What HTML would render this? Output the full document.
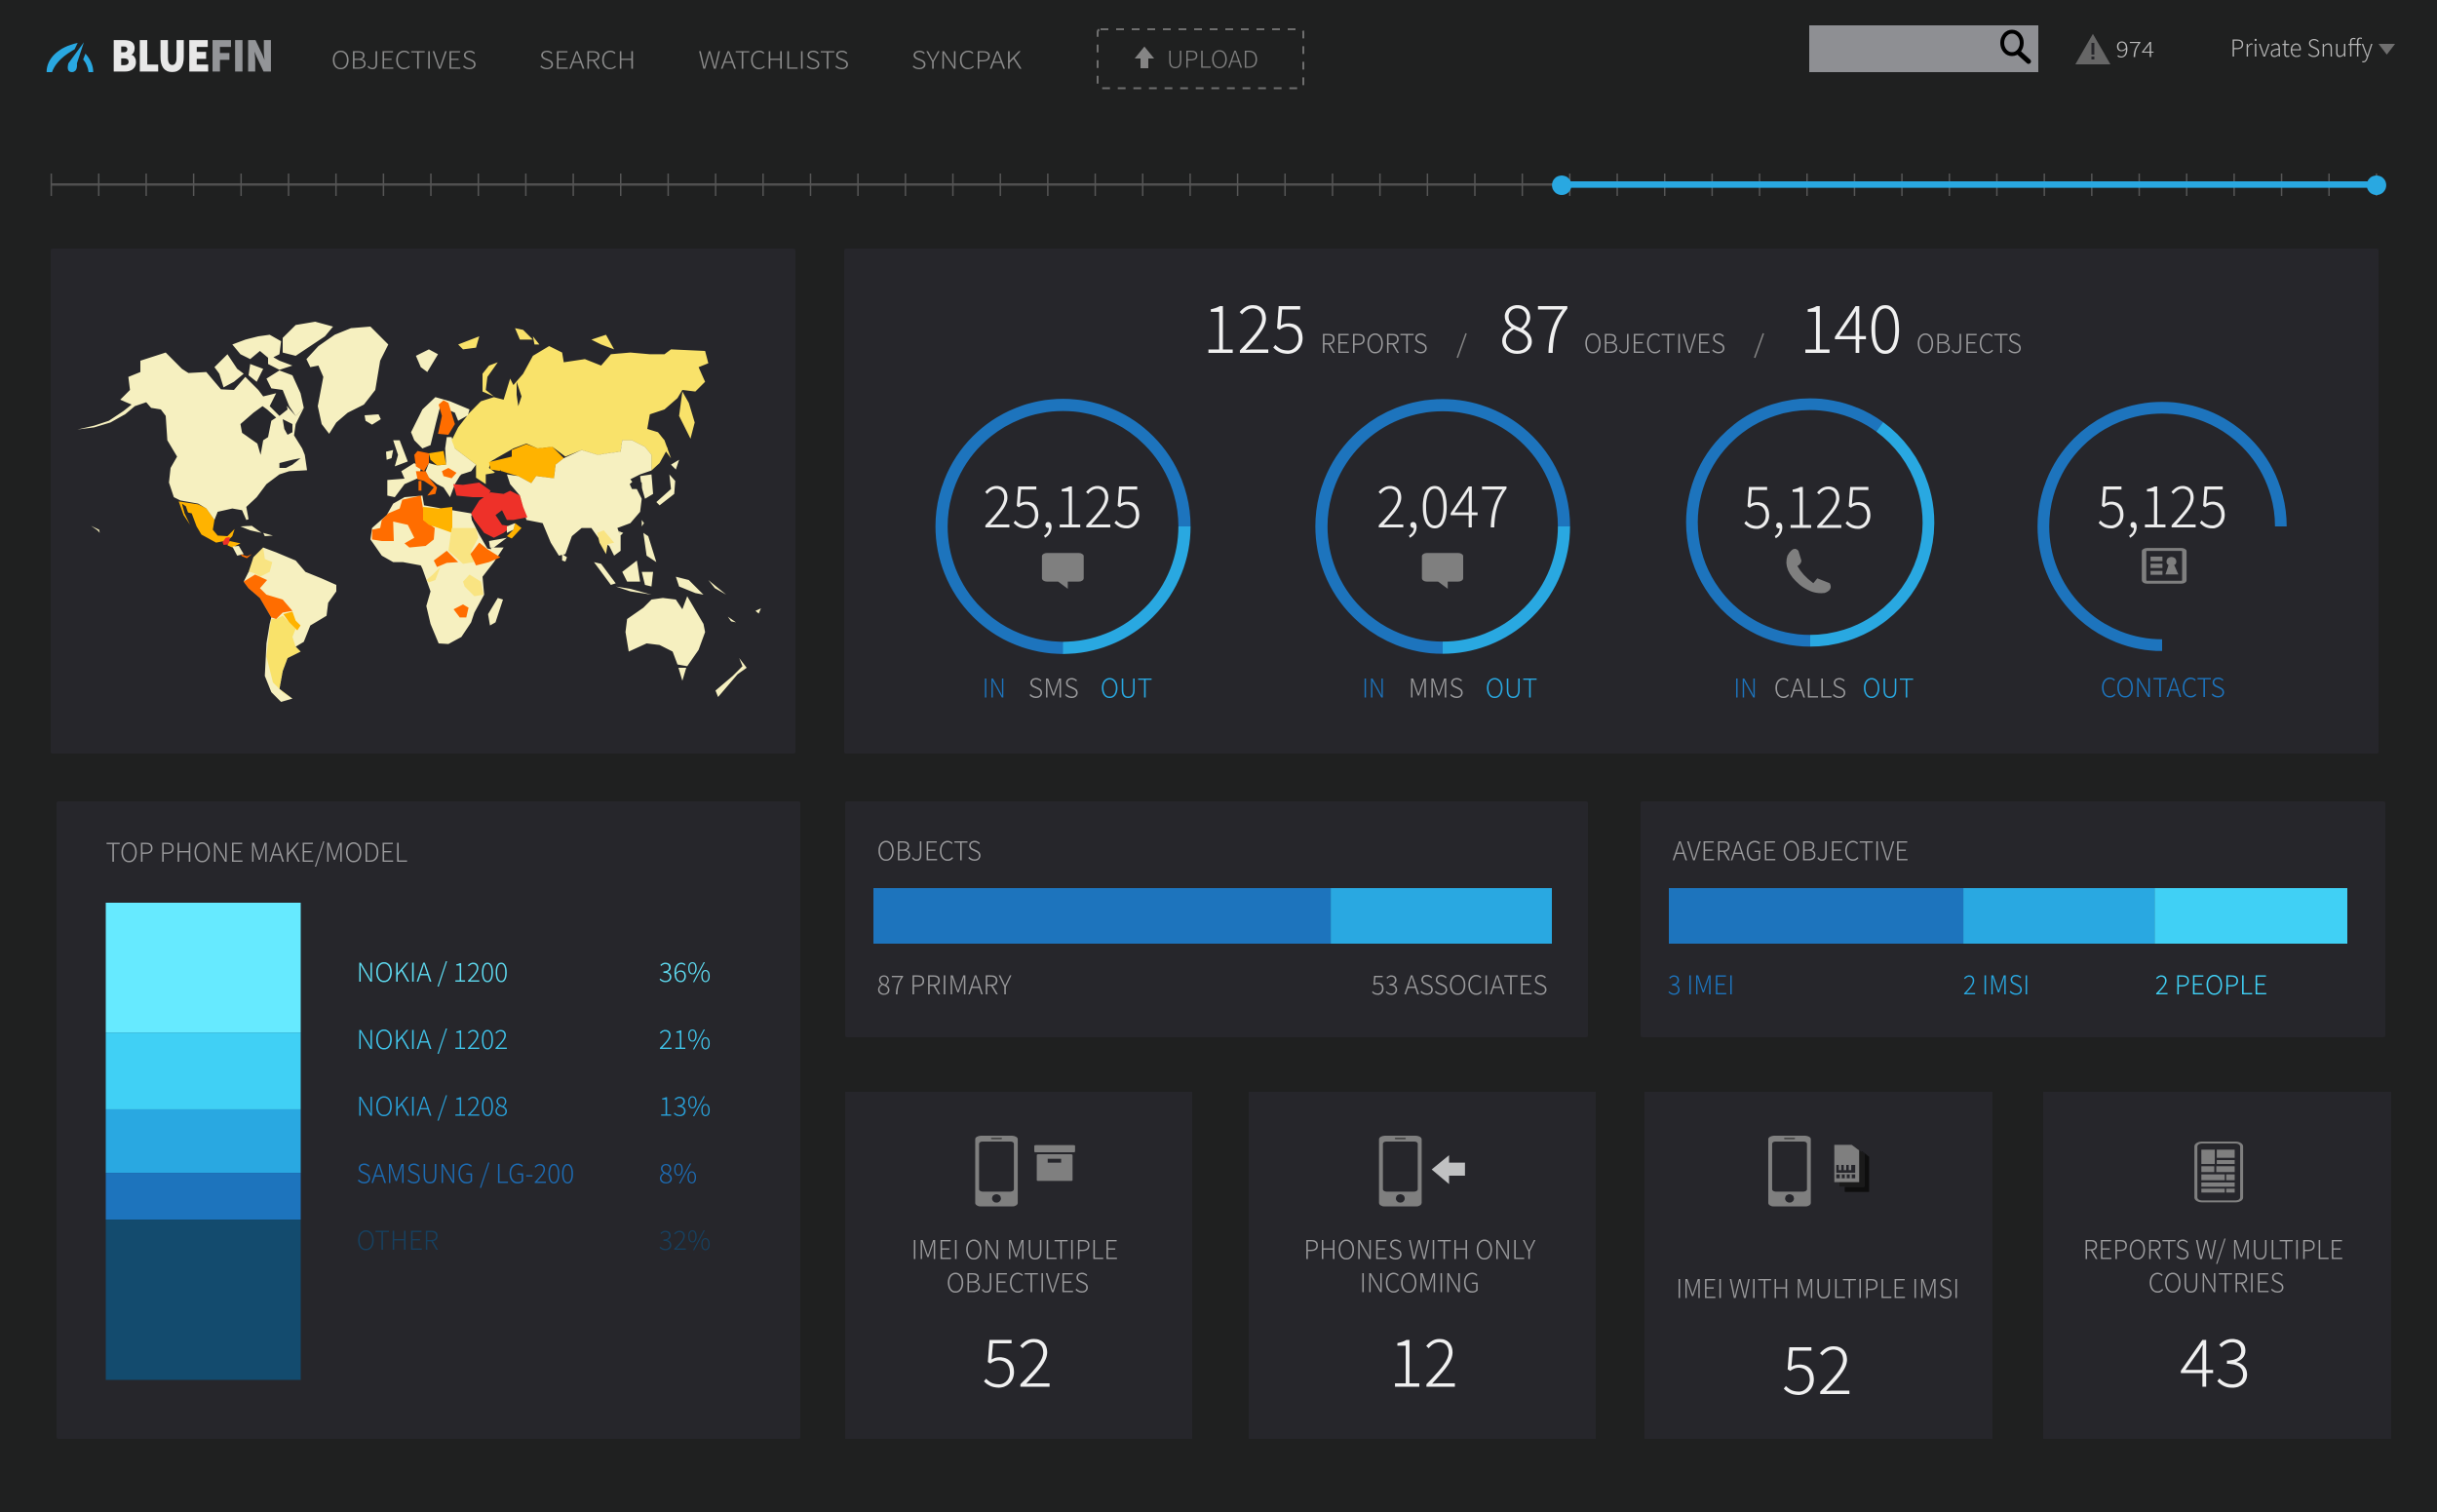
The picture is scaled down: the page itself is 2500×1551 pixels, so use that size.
<!DOCTYPE html>
<html lang="en">
<head>
<meta charset="utf-8">
<title>Bluefin Dashboard</title>
<style>
html,body{margin:0;padding:0;background:#1f2020;width:2500px;height:1551px;overflow:hidden}
svg{display:block}
text{font-family:"Noto Sans CJK JP","Liberation Sans",sans-serif;font-weight:300;}
.nav{font-size:25px;fill:#8c8c8c}
.lab{font-size:27px;fill:#9a9a9c}
.num{font-size:68px;fill:#f0f0f0;font-weight:200}
.ring{font-size:59px;fill:#ececec;font-weight:200}
.in{fill:#1d74bd}.out{fill:#29a8e1}
.panel{fill:#26262b}
.c{fill:#f6f0c0}.y{fill:#f9e26a}.p{fill:#f9e482}.a{fill:#ffb300}.o{fill:#ff6d00}.r{fill:#ee3129}.d{fill:#26262b}
.ic{fill:#7f7f7f}
</style>
</head>
<body>
<svg id="dash" xmlns="http://www.w3.org/2000/svg" width="2500" height="1551" viewBox="0 0 2500 1551">
<defs>
<symbol id="phone-shape" viewBox="0 0 86 218" width="86" height="218">
<rect x="0" y="0" width="86" height="218" rx="12" fill="#7f7f7f"/>
<rect x="8" y="18" width="70" height="154" rx="7" fill="#26262b"/>
<rect x="32" y="6" width="22" height="5" rx="2" fill="#444"/>
<ellipse cx="43" cy="193" rx="9" ry="13" fill="#26262b"/>
</symbol>
</defs>

<!-- header -->
<g>
<g transform="scale(.797,.3333)" fill="#29a8e1">
<path d="M60,222 C60,180 75,145 100,132 L96,152 C84,168 72,190 67,222Z"/>
<path d="M108,130 L88,195 Q85,222 93,222 Q100,220 99,195Z"/>
<path d="M110,165 Q120,192 120,222 L114,222 Q113,200 107,183Z"/>
</g>
<text x="115.6" y="73" textLength="98" lengthAdjust="spacingAndGlyphs" stroke="#e8e8e8" stroke-width=".8" style="font-size:42px;font-weight:900;fill:#e8e8e8">BLUE</text>
<text x="217" y="73" textLength="62" lengthAdjust="spacingAndGlyphs" stroke="#939598" stroke-width=".8" style="font-size:42px;font-weight:900;fill:#939598">FIN</text>
</g>
<text class="nav" x="341" y="70.7" textLength="147" lengthAdjust="spacingAndGlyphs">OBJECTIVES</text>
<text class="nav" x="554" y="70.7" textLength="97" lengthAdjust="spacingAndGlyphs">SEARCH</text>
<text class="nav" x="717.5" y="70.7" textLength="152.5" lengthAdjust="spacingAndGlyphs">WATCHLISTS</text>
<text class="nav" x="936" y="70.7" textLength="111" lengthAdjust="spacingAndGlyphs">SYNCPAK</text>
<g>
<rect x="1126" y="30" width="211" height="60.5" rx="3" fill="none" stroke="#6e6e6e" stroke-width="2" stroke-dasharray="8 8"/>
<polygon points="1174,47.7 1184,60 1178,60 1178,70 1170,70 1170,60 1164,60" fill="#858585"/>
<text x="1198" y="69.3" textLength="92" lengthAdjust="spacingAndGlyphs" style="font-size:24px;fill:#808080">UPLOAD</text>
</g>
<g>
<rect x="1856" y="26" width="235" height="48" fill="#8e8f93"/>
<ellipse cx="2064" cy="44" rx="10" ry="11.5" fill="none" stroke="#000" stroke-width="4"/>
<line x1="2071" y1="54" x2="2081" y2="63" stroke="#000" stroke-width="5" stroke-linecap="round"/>
</g>
<g>
<polygon points="2147,34.7 2165,66 2129,66" fill="#666"/>
<rect x="2145.5" y="44" width="3" height="12" fill="#26262b"/>
<rect x="2145.5" y="58" width="3" height="3" fill="#26262b"/>
</g>
<text x="2171.6" y="58.3" textLength="37.5" lengthAdjust="spacingAndGlyphs" style="font-size:22px;fill:#bdbdbd;font-weight:300">974</text>
<text x="2289" y="58" textLength="144" lengthAdjust="spacingAndGlyphs" style="font-size:24px;fill:#b5b5b5">Private Snuffy</text>
<polygon points="2440,45 2457,45 2448.5,56" fill="#6f6f6f"/>

<!-- timeline -->
<g id="timeline"></g>

<!-- panels -->
<rect class="panel" x="52" y="255" width="764" height="518" rx="2"/>
<rect class="panel" x="866" y="255" width="1574" height="518" rx="2"/>
<rect class="panel" x="58" y="822" width="763" height="654" rx="2"/>
<rect class="panel" x="867" y="822" width="762" height="242" rx="2"/>
<rect class="panel" x="1683" y="822" width="764" height="242" rx="2"/>
<rect class="panel" x="867" y="1120" width="356" height="356"/>
<rect class="panel" x="1281" y="1120" width="356" height="356"/>
<rect class="panel" x="1687" y="1120" width="357" height="356"/>
<rect class="panel" x="2096" y="1120" width="357" height="356"/>

<!-- world map -->
<g>
<g transform="translate(70,320) scale(.33333)">
<polygon class="c" points="160,270 190,240 185,200 222,185 222,150 300,125 350,175 370,188 425,185 470,238 510,240 545,200 585,240 600,260 640,250 665,280 700,320 725,295 700,345 695,380 720,420 728,440 735,487 680,490 650,500 610,530 580,570 548,600 555,638 548,640 535,610 505,605 460,615 450,640 425,605 400,590 345,580 325,570 310,525 315,480 335,445 305,395 300,320 285,300 255,295 240,278 205,290 175,315 130,340 80,355 28,362 80,350 125,335 170,305 195,285"/>
<polygon class="d" points="530,345 570,310 598,290 612,300 640,325 625,335 615,385 600,395 592,440 582,405 535,372"/>
<polygon class="d" points="620,290 640,250 665,250 675,300 650,320"/>
<polygon class="d" points="660,330 690,345 690,370 675,378 665,360"/>
<polygon class="d" points="650,465 690,455 715,450 690,470 670,480 650,480"/>
<g class="c">
<polygon points="610,205 650,180 690,195 715,250 725,295 700,320 680,290 660,240 625,235"/>
<polygon points="660,80 700,40 760,30 815,45 790,75 745,105 700,135 660,125"/>
<polygon points="505,100 545,85 585,75 620,70 655,90 650,130 620,145 590,120 560,145 530,130"/>
<polygon points="450,170 490,130 520,175 540,190 510,215 478,232 465,190"/>
<polygon points="560,160 600,175 580,215 555,195"/>
<polygon points="615,130 650,150 690,165 650,178 615,160"/>
</g>
<polygon class="c" points="733,145 770,105 820,70 870,50 930,45 985,100 960,150 945,240 910,285 860,310 825,340 803,375 780,345 768,290 785,200 770,165 745,170"/>
<polygon class="a" points="340,583 400,592 425,605 450,640 445,670 460,688 490,690 512,668 505,690 495,700 480,705 455,710 410,685 395,660 380,620 360,615 375,655 355,625"/>
<polygon class="d" points="350,590 362,598 380,650 375,655 358,620"/>
<polygon class="r" points="485,695 497,693 495,715 478,717 475,708"/>
<polygon class="a" points="497,705 530,712 505,725 490,718"/>
<polygon class="c" points="505,722 525,720 540,745 520,750"/>
<polygon class="o" points="530,745 550,752 565,745 550,758 535,752"/>
<polygon class="c" points="530,660 565,658 595,680 560,672"/>
<polygon class="c" points="600,680 630,688 605,690"/>
<polygon class="c" points="70,658 95,670 97,680 90,672"/>
<polygon class="c" points="557,800 570,755 600,725 640,740 700,765 730,800 780,820 825,840 825,860 800,895 795,935 745,965 725,1015 700,1030 715,1045 675,1065 660,1105 650,1160 690,1190 655,1200 625,1170 605,1120 610,1020 620,960 625,940 590,880 555,850 540,830 555,800"/>
<polygon class="p" points="555,800 570,755 600,725 605,760 628,770 620,800 590,815 575,805 560,800"/>
<polygon class="o" points="540,830 575,808 612,825 590,850 610,870 660,885 690,920 660,925 640,945 625,940 590,880 555,850"/>
<polygon class="a" points="662,930 690,922 700,950 715,965 705,980 680,955"/>
<polygon class="y" points="625,945 640,945 660,935 680,955 700,975 690,1000 700,1030 715,1045 675,1065 660,1105 650,1160 690,1192 660,1170 630,1140 610,1060 620,970"/>
</g>

<g transform="translate(360,320) scale(.33333)">
<polygon class="c" points="60,700 65,665 110,625 130,590 165,570 220,565 225,595 280,605 312,610 370,620 385,660 425,725 470,725 440,770 405,815 410,870 380,925 370,955 340,1000 300,1022 270,1020 245,960 232,905 245,860 220,790 215,780 160,770 130,770 95,750"/>
<polygon class="o" points="158,578 215,565 222,605 222,640 258,665 255,700 230,720 180,725 165,712 195,695 175,655 130,645 132,705 95,705 65,700 65,670 90,665 95,640 115,620 150,605"/>
<polygon class="a" points="222,600 270,605 312,600 312,680 270,665 240,655 222,640"/>
<polygon class="p" points="310,665 385,665 392,695 370,735 378,770 345,775 300,735"/>
<polygon class="o" points="395,710 420,730 460,755 425,770 385,780 368,745"/>
<polygon class="o" points="255,765 295,735 330,770 295,772 265,785"/>
<polygon class="p" points="232,825 250,810 275,785 260,825 240,832"/>
<polygon class="p" points="345,830 365,808 400,830 408,870 380,875 350,845"/>
<polygon class="o" points="316,915 345,900 362,910 355,940 335,940"/>
<polygon class="c" points="452,880 468,885 445,955 428,965 422,930"/>

<polygon class="c" points="112,517 165,513 155,490 195,465 215,480 210,510 165,530 135,570 112,565"/>
<polygon class="c" points="240,465 265,472 293,470 290,420 295,385 310,385 320,420 385,470 370,490 340,500 335,505 320,530 305,570 285,540 265,530 240,510 230,490"/>
<polygon class="o" points="195,440 205,428 240,435 240,465 225,490 200,475"/>
<polygon class="o" points="200,490 230,490 240,510 265,540 260,560 235,565 255,540 225,520 205,515"/>
<polygon class="o" points="208,520 217,520 217,550 208,550"/>
<polygon class="a" points="240,435 285,428 293,470 265,472 245,455"/>
<polygon class="o" points="280,490 300,480 325,495 310,512 285,505"/>
<polygon class="c" points="185,370 220,300 260,262 305,275 365,300 360,318 330,335 320,310 275,290 262,340 245,410 220,420 195,395"/>
<polygon class="o" points="285,272 300,280 320,345 300,378 268,375 280,320 270,285"/>
<polygon class="c" points="130,395 150,395 175,460 135,475 145,440"/>
<polygon class="c" points="108,430 130,425 125,450 110,455"/>
<polygon class="c" points="42,318 85,315 92,330 65,347 45,335"/>
<polygon class="c" points="200,135 240,115 268,130 235,185 215,170"/>
<polygon class="y" points="330,100 395,75 385,110 345,115"/>
<polygon class="y" points="405,190 425,165 452,155 420,200 415,240 440,260 405,245"/>
<polygon class="y" points="505,50 530,55 560,85 520,85"/>
<polygon class="y" points="560,75 580,100 565,100"/>
<polygon class="y" points="740,85 785,70 810,115 770,100"/>

<polygon class="y" points="310,395 330,355 365,310 400,275 440,262 470,270 490,205 500,225 530,190 560,135 610,105 650,125 655,155 720,145 770,165 800,130 860,125 920,130 965,130 985,115 1090,120 1100,158 1070,170 1090,215 1060,245 1020,240 1005,265 965,300 920,315 912,360 945,370 975,420 950,465 925,488 925,440 905,415 865,395 835,395 830,430 790,435 760,440 710,425 660,445 620,415 575,420 540,405 500,420 430,460 425,480 445,495 415,500 415,530 385,510 385,470 320,420"/>
<polygon class="d" points="510,215 525,260 515,290 510,255"/>
<polygon class="y" points="1020,245 1040,280 1058,340 1045,390 1010,320"/>
<polygon class="y" points="945,370 965,395 985,450 970,430"/>
<polygon class="a" points="425,462 495,445 495,425 540,407 575,420 620,415 655,450 630,470 625,512 570,505 555,527 515,505 480,495 465,490 430,485"/>
<polygon class="c" points="480,500 515,505 555,527 570,505 625,512 630,470 655,450 710,425 760,440 790,435 830,430 835,395 865,395 905,415 925,440 925,488 890,500 860,515 875,535 895,575 890,615 860,650 820,665 830,690 830,735 810,750 795,720 765,700 740,665 710,665 680,690 660,745 640,750 615,710 590,650 540,640 520,565 490,530"/>
<polygon class="c" points="890,505 925,500 930,560 905,575 895,540"/>
<polygon class="d" points="858,530 875,515 895,525 897,570 880,545 865,545"/>
<polygon class="c" points="940,585 985,545 980,500 998,520 995,560 950,595"/>
<polygon class="c" points="985,470 1010,455 1000,485"/>
<polygon class="c" points="895,640 902,650 895,660"/>
<polygon class="c" points="825,675 838,680 828,690"/>
<polygon class="p" points="758,680 778,672 810,710 790,715 785,745 765,710"/>
<polygon class="c" points="748,770 770,775 815,835 800,840"/>
<polygon class="c" points="835,800 880,765 890,830 850,830"/>
<polygon class="c" points="815,845 860,852 925,870 860,860"/>
<polygon class="c" points="900,680 915,690 940,770 910,750"/>
<polygon class="c" points="895,800 930,800 925,845 905,840"/>
<polygon class="c" points="1000,815 1040,825 1085,870 1060,865 1010,845"/>
<polygon class="c" points="1100,825 1155,870 1120,850"/>
<polygon class="c" points="1245,920 1262,912 1255,928"/>
<polygon class="c" points="1160,938 1185,955 1170,952"/>
<polygon class="c" points="850,945 900,910 925,885 960,880 1000,885 1020,915 1035,875 1085,960 1090,985 1070,1040 1035,1090 1005,1085 990,1045 950,1025 910,1020 855,1045 845,985"/>
<polygon class="c" points="1008,1095 1032,1095 1020,1135"/>
<polygon class="c" points="1195,1065 1218,1095 1190,1115 1130,1185 1122,1165 1175,1120 1205,1090"/>
<polygon class="c" points="650,745 665,755 660,768 650,765"/>

<polygon class="d" points="370,625 385,640 415,690 432,730 420,728 395,685 372,640"/>
<polygon class="r" points="315,530 345,532 395,525 430,550 420,570 375,570 325,565"/>
<polygon class="r" points="370,620 395,580 430,555 470,560 490,550 520,565 530,600 543,632 500,640 480,640 465,610 445,625 465,655 495,660 470,680 440,695 410,680 380,640"/>
<polygon class="a" points="505,650 525,665 495,697 480,690 500,670"/>
<polygon class="c" points="425,705 480,695 440,725 428,725"/>
<polygon class="c" points="480,660 505,650 500,670 480,680"/>
<polygon class="d" points="440,495 462,487 455,510 478,555 455,555 445,520"/>
</g>
</g>

<!-- summary -->
<text class="num" x="1236.7" y="362" textLength="100" lengthAdjust="spacingAndGlyphs">125</text>
<text class="lab" x="1355.6" y="362" textLength="108" lengthAdjust="spacingAndGlyphs">REPORTS</text>
<line x1="1504" y1="342" x2="1495" y2="367" stroke="#858585" stroke-width="1.5"/>
<text class="num" x="1541" y="362" textLength="67" lengthAdjust="spacingAndGlyphs">87</text>
<text class="lab" x="1626" y="362" textLength="143" lengthAdjust="spacingAndGlyphs">OBJECTIVES</text>
<line x1="1809" y1="342" x2="1800" y2="367" stroke="#858585" stroke-width="1.5"/>
<text class="num" x="1849" y="362" textLength="99.5" lengthAdjust="spacingAndGlyphs">140</text>
<text class="lab" x="1967" y="362" textLength="106" lengthAdjust="spacingAndGlyphs">OBJECTS</text>

<!-- rings -->
<g id="ring-sms" data-cx="1090.5" data-cy="540" data-r="124.6" data-w="12.5"></g>
<g id="ring-mms" data-cx="1480" data-cy="540" data-r="124.4" data-w="12.5"></g>
<g id="ring-calls" data-cx="1857" data-cy="536" data-r="121.3" data-w="12"></g>
<g id="ring-contacts" data-cx="2218" data-cy="540" data-r="121.8" data-w="12"></g>

<text class="ring" x="1011" y="541" textLength="158" lengthAdjust="spacingAndGlyphs">25,125</text>
<text class="ring" x="1414.5" y="541" textLength="131" lengthAdjust="spacingAndGlyphs">2,047</text>
<text class="ring" x="1790.5" y="541.7" textLength="128.5" lengthAdjust="spacingAndGlyphs">5,125</text>
<text class="ring" x="2154" y="541" textLength="128.5" lengthAdjust="spacingAndGlyphs">5,125</text>

<g transform="translate(900,280) scale(.5102,.3333)" class="ic">
<g><rect x="331" y="862" width="84" height="88" rx="10"/><polygon points="362,948 383,972 383,948"/></g>
<g><rect x="1095" y="862" width="83" height="88" rx="10"/><polygon points="1126,948 1147,972 1147,948"/></g>
</g>
<g transform="translate(1650,280) scale(.5102,.3333)">
<path class="ic" d="M360,870 Q372,838 382,855 L388,885 Q388,895 380,902 Q390,930 412,955 L420,940 L445,955 Q452,975 435,985 Q410,990 385,960 Q350,915 360,870Z"/>
<g>
<rect x="1077" y="851" width="81" height="101" rx="6" fill="none" stroke="#7f7f7f" stroke-width="9"/>
<rect class="ic" x="1090" y="873" width="24" height="14"/>
<rect class="ic" x="1090" y="895" width="24" height="13"/>
<rect class="ic" x="1090" y="917" width="24" height="12"/>
<ellipse class="ic" cx="1132" cy="888" rx="10" ry="14"/>
<polygon class="ic" points="1126,900 1138,900 1146,928 1120,928"/>
</g>
</g>

<text class="lab in" x="1009" y="715.7" textLength="21.6" lengthAdjust="spacingAndGlyphs">IN</text>
<text class="lab" x="1056" y="715.7" textLength="49.6" lengthAdjust="spacingAndGlyphs">SMS</text>
<text class="lab out" x="1130" y="715.7" textLength="51" lengthAdjust="spacingAndGlyphs">OUT</text>
<text class="lab in" x="1398.5" y="715.7" textLength="21.5" lengthAdjust="spacingAndGlyphs">IN</text>
<text class="lab" x="1446" y="715.7" textLength="54.5" lengthAdjust="spacingAndGlyphs">MMS</text>
<text class="lab out" x="1525" y="715.7" textLength="51" lengthAdjust="spacingAndGlyphs">OUT</text>
<text class="lab in" x="1779.6" y="715.7" textLength="22" lengthAdjust="spacingAndGlyphs">IN</text>
<text class="lab" x="1821" y="715.7" textLength="72" lengthAdjust="spacingAndGlyphs">CALLS</text>
<text class="lab out" x="1911.7" y="715.7" textLength="50.5" lengthAdjust="spacingAndGlyphs">OUT</text>
<text class="lab in" x="2156" y="715" textLength="125.6" lengthAdjust="spacingAndGlyphs">CONTACTS</text>

<!-- phone make/model -->
<text class="lab" x="109.7" y="884" textLength="307.3" lengthAdjust="spacingAndGlyphs">TOP PHONE MAKE/MODEL</text>
<g id="phone-stack"></g>
<g id="phone-legend"></g>

<!-- objects / average -->
<text class="lab" x="900.8" y="882.7" textLength="105" lengthAdjust="spacingAndGlyphs">OBJECTS</text>
<g id="objects-bar"></g>
<text class="lab" x="900.8" y="1020" textLength="135.7" lengthAdjust="spacingAndGlyphs">87 PRIMARY</text>
<text class="lab" x="1408" y="1020" textLength="178.5" lengthAdjust="spacingAndGlyphs">53 ASSOCIATES</text>

<text class="lab" x="1717" y="882.7" textLength="240" lengthAdjust="spacingAndGlyphs">AVERAGE OBJECTIVE</text>
<g id="average-bar"></g>
<text class="lab in" x="1712" y="1020" textLength="66" lengthAdjust="spacingAndGlyphs">3 IMEI</text>
<text class="lab out" x="2015" y="1020" textLength="66" lengthAdjust="spacingAndGlyphs">2 IMSI</text>
<text class="lab" style="fill:#40d0f5" x="2212" y="1020" textLength="113" lengthAdjust="spacingAndGlyphs">2 PEOPLE</text>

<!-- stat icons -->
<g transform="translate(860,1110) scale(.5102,.3333)">
<use href="#phone-shape" x="275" y="165"/>
<g class="ic">
<rect x="394" y="194" width="82" height="22" rx="3"/>
<rect x="399" y="222" width="72" height="82" rx="3"/>
<rect x="421" y="236" width="27" height="12" fill="#26262b"/>
</g>
<use href="#phone-shape" x="1087" y="165"/>
<polygon fill="#c0c1c2" points="1193,269 1228,225 1228,248 1260,248 1260,288 1228,288 1228,314"/>
</g>
<g transform="translate(1670,1110) scale(.5102,.3333)">
<use href="#phone-shape" x="282" y="165"/>
<g>
<polygon points="436,213 471,213 485,230 485,338 436,338" fill="#0e0e0e"/>
<polygon points="425,203 460,203 475,220 475,322 425,322" fill="#1a1a1a" stroke="#26262b" stroke-width="1"/>
<polygon points="415,193 450,193 465,210 465,308 415,308" fill="#7f7f7f"/>
<rect x="419" y="255" width="38" height="24" fill="#26262b"/>
<rect x="419" y="284" width="38" height="12" fill="#26262b"/>
<rect x="424" y="255" width="5" height="16" fill="#7f7f7f"/><rect x="434" y="255" width="5" height="16" fill="#7f7f7f"/><rect x="444" y="255" width="5" height="16" fill="#7f7f7f"/>
<rect x="426" y="284" width="4" height="12" fill="#7f7f7f"/><rect x="436" y="284" width="4" height="12" fill="#7f7f7f"/><rect x="446" y="284" width="4" height="12" fill="#7f7f7f"/>
</g>
<g class="ic">
<rect x="1142" y="186" width="92" height="181" rx="12" fill="none" stroke="#7f7f7f" stroke-width="6"/>
<rect x="1153" y="208" width="27" height="44"/><rect x="1184" y="208" width="36" height="25"/><rect x="1184" y="240" width="36" height="12"/>
<rect x="1153" y="259" width="26" height="18"/><rect x="1183" y="259" width="37" height="18"/>
<rect x="1153" y="284" width="47" height="18"/><rect x="1203" y="284" width="17" height="18"/>
<rect x="1153" y="309" width="67" height="13"/>
<rect x="1153" y="328" width="47" height="12"/><rect x="1203" y="328" width="17" height="12"/>
</g>
</g>

<!-- stat text -->
<text class="lab" x="936" y="1291.7" textLength="210" lengthAdjust="spacingAndGlyphs">IMEI ON MULTIPLE</text>
<text class="lab" x="972" y="1325.5" textLength="144" lengthAdjust="spacingAndGlyphs">OBJECTIVES</text>
<text class="num" x="1010.5" y="1422.7" textLength="66.5" lengthAdjust="spacingAndGlyphs">52</text>
<text class="lab" x="1338.6" y="1291.7" textLength="235.4" lengthAdjust="spacingAndGlyphs">PHONES WITH ONLY</text>
<text class="lab" x="1396" y="1325.5" textLength="120.6" lengthAdjust="spacingAndGlyphs">INCOMING</text>
<text class="num" x="1428" y="1422.7" textLength="64.7" lengthAdjust="spacingAndGlyphs">12</text>
<text class="lab" x="1720.5" y="1331.7" textLength="288.5" lengthAdjust="spacingAndGlyphs">IMEI WITH MULTIPLE IMSI</text>
<text class="num" x="1831" y="1430" textLength="66.5" lengthAdjust="spacingAndGlyphs">52</text>
<text class="lab" x="2138" y="1291.7" textLength="265" lengthAdjust="spacingAndGlyphs">REPORTS W/ MULTIPLE</text>
<text class="lab" x="2205" y="1325.5" textLength="137.5" lengthAdjust="spacingAndGlyphs">COUNTRIES</text>
<text class="num" x="2239" y="1422.7" textLength="67" lengthAdjust="spacingAndGlyphs">43</text>
</svg>

<script>
// Chart data
const ringNames = ['ring-sms', 'ring-mms', 'ring-calls', 'ring-contacts'];
const ringInShare = [75, 75, 60, 75];
const ringOutShare = [25, 25, 40, 0];

const phoneCategories = ['NOKIA / 1200', 'NOKIA / 1202', 'NOKIA / 1208', 'SAMSUNG / LG-200', 'OTHER'];
const phoneBarShare = [27.2, 16.1, 13.3, 9.8, 33.6];
const phoneLabels = ['36%', '21%', '13%', '8%', '32%'];

const objectsShare = [67.4, 32.6];
const averageShare = [43.4, 28.2, 28.4];

const timelineTickCount = 50;
const timelineRange = [31.83, 49];

const NS = 'http://www.w3.org/2000/svg';
const phoneColors = ['#66eaff', '#40d0f5', '#29a8e1', '#1d74bd', '#134b6e'];
const phoneTextColors = ['#5fdcf2', '#40c4ea', '#29a0d8', '#1d6cb4', '#17405f'];
const phoneTextWidths = [153, 153, 153, 221, 82];
const phonePctWidths = [51, 51, 51, 37, 51];
const barColors = ['#1d74bd', '#29a8e1', '#40d0f5'];

function make(tag, attrs, parent) {
  const el = document.createElementNS(NS, tag);
  for (const k in attrs) el.setAttribute(k, attrs[k]);
  parent.appendChild(el);
  return el;
}

// rings
function angleOf(share) { return share / 100 * 2 * Math.PI; }
function arcPath(cx, cy, r, from, to) {
  const x0 = cx + r * Math.sin(from), y0 = cy - r * Math.cos(from);
  const x1 = cx + r * Math.sin(to), y1 = cy - r * Math.cos(to);
  const large = Math.abs(to - from) > Math.PI ? 1 : 0;
  const sweep = to > from ? 1 : 0;
  return 'M' + x0 + ',' + y0 + ' A' + r + ',' + r + ' 0 ' + large + ' ' + sweep + ' ' + x1 + ',' + y1;
}
ringNames.forEach(function (id, i) {
  const g = document.getElementById(id);
  const cx = +g.dataset.cx, cy = +g.dataset.cy, r = +g.dataset.r, w = +g.dataset.w;
  const base = Math.PI;
  const inEl = make('path', { d: arcPath(cx, cy, r, base, base + angleOf(ringInShare[i])), fill: 'none', stroke: '#1d74bd', 'stroke-width': w }, g);
  
  
  if (ringOutShare[i] > 0) {
    const outEl = make('path', { d: arcPath(cx, cy, r, base, base - angleOf(ringOutShare[i])), fill: 'none', stroke: '#29a8e1', 'stroke-width': w }, g);
    
    
  }
});

// vertical stack
(function () {
  const g = document.getElementById('phone-stack');
  const legend = document.getElementById('phone-legend');
  const top = 926, fullHeight = 489.5, total = 100;
  const rowBaselines0 = 1007, rowStep = 68.75;
  let y = top;
  phoneBarShare.forEach(function (v, i) {
    const h = v / total * fullHeight;
    const seg = make('rect', { x: 108.5, y: y, width: 200, height: h, fill: phoneColors[i] }, g);
    
    
    y += h;
    const base = rowBaselines0 + rowStep * i;
    const t = make('text', { x: 367, y: base, textLength: phoneTextWidths[i], lengthAdjust: 'spacingAndGlyphs', style: 'font-size:27px;fill:' + phoneTextColors[i] }, legend);
    t.textContent = phoneCategories[i];
    
    
    const p = make('text', { x: 677, y: base, textLength: phonePctWidths[i], lengthAdjust: 'spacingAndGlyphs', style: 'font-size:27px;fill:' + phoneTextColors[i] }, legend);
    p.textContent = phoneLabels[i];
    
    
  });
})();

// horizontal stacks
function drawHBar(id, shares, x0, fullWidth) {
  const g = document.getElementById(id);
  let x = x0;
  shares.forEach(function (v, i) {
    const w = v / 100 * fullWidth;
    const seg = make('rect', { x: x, y: 911, width: w, height: 57, fill: barColors[i] }, g);
    
    
    x += w;
  });
}
drawHBar('objects-bar', objectsShare, 896, 696);
drawHBar('average-bar', averageShare, 1712, 696);

// timeline
(function () {
  const g = document.getElementById('timeline');
  const x0 = 52.6, step = 48.68;
  function tx(i) { return x0 + i * step; }
  const axis = make('line', { x1: tx(0), y1: 189.3, x2: tx(timelineRange[0]), y2: 189.3, stroke: '#505050', 'stroke-width': 2.5 }, g);
  
  
  for (let i = 0; i < timelineTickCount; i++) {
    const t = make('line', { x1: tx(i), y1: 178, x2: tx(i), y2: 201, stroke: '#565656', 'stroke-width': 1.5 }, g);
    
    
  }
  const sel = make('line', { x1: tx(timelineRange[0]), y1: 189.3, x2: tx(timelineRange[1]), y2: 189.3, stroke: '#29a8e1', 'stroke-width': 6.7 }, g);
  
  
  timelineRange.forEach(function (v) {
    const h = make('circle', { cx: tx(v), cy: 190, r: 10, fill: '#29a8e1' }, g);
    
    
  });
})();

// widen fitted text by its side bearings so the inked glyphs reach the measured extents
document.querySelectorAll('text[textLength]').forEach(function (t) {
  const size = parseFloat(getComputedStyle(t).fontSize);
  const pad = size * 0.045;
  t.setAttribute('x', parseFloat(t.getAttribute('x')) - pad);
  t.setAttribute('textLength', parseFloat(t.getAttribute('textLength')) + 2 * pad);
});
</script>
</body>
</html>
